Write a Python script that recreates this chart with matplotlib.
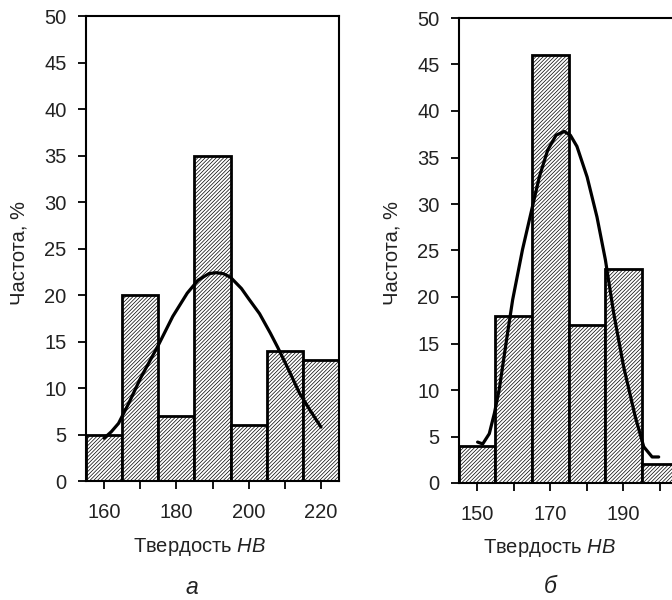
import matplotlib
matplotlib.use("Agg")
import matplotlib.pyplot as plt
from matplotlib.ticker import FixedLocator

plt.rcParams['font.family'] = ['Liberation Sans', 'DejaVu Sans']
plt.rcParams['mathtext.fontset'] = 'custom'
plt.rcParams['mathtext.it'] = 'Liberation Sans:italic'
plt.rcParams['mathtext.rm'] = 'Liberation Sans'
plt.rcParams['hatch.linewidth'] = 0.5

# panel a
bins_a = [160, 170, 180, 190, 200, 210, 220]
freq_a = [5, 20, 7, 35, 6, 14, 13]
curve_a_x = [160, 162, 164, 167, 170, 175, 179, 183, 186, 189, 191, 193, 195,
             198, 200, 203, 206, 208, 211, 214, 217, 220]
curve_a_y = [4.6, 5.3, 6.2, 8.5, 11.0, 14.6, 17.7, 20.2, 21.6, 22.3, 22.4, 22.3, 21.9,
             20.7, 19.6, 18.0, 15.9, 14.4, 12.0, 9.5, 7.6, 5.8]

# panel b
bins_b = [150, 160, 170, 180, 190, 200]
freq_b = [4, 18, 46, 17, 23, 2]
curve_b_x = [150.1, 151.5, 153.3, 154.7, 156.0, 158.3, 159.7, 162.4, 164.7, 167.0, 169.3,
             171.6, 173.8, 175.5, 177.3, 180.1, 182.8, 185.1, 187.4, 190.1, 193.3,
             195.6, 197.9, 199.7]
curve_b_y = [4.4, 4.2, 5.3, 7.5, 10.0, 16.1, 19.7, 25.1, 29.0, 32.9, 35.8,
             37.4, 37.8, 37.4, 36.2, 32.9, 28.6, 24.0, 18.2, 12.5, 7.1,
             3.9, 2.8, 2.8]

TXT = '#222222'

fig = plt.figure(figsize=(6.72, 6.0), dpi=100)
ax1 = fig.add_axes([0.128, 0.1983, 0.3765, 0.775])
ax2 = fig.add_axes([0.683, 0.195, 0.326, 0.775])


def draw(ax, bins, freq, cx, cy, xlim, major, minor):
    ax.bar(bins, freq, width=10, facecolor='white', edgecolor='black',
           hatch='/////////', linewidth=2.0, zorder=2)
    ax.plot(cx, cy, color='black', lw=2.3, solid_capstyle='round',
            solid_joinstyle='round', zorder=3)
    ax.set_xlim(*xlim)
    ax.set_ylim(0, 50)
    ax.set_yticks(range(0, 51, 5))
    ax.xaxis.set_major_locator(FixedLocator(major))
    ax.xaxis.set_minor_locator(FixedLocator(minor))
    ax.tick_params(which='both', direction='out', length=6, width=1.3,
                   colors='black', labelcolor=TXT, labelsize=14.5)
    ax.tick_params(axis='y', pad=8)
    ax.tick_params(axis='x', pad=10)
    for s in ax.spines.values():
        s.set_linewidth(1.5)


draw(ax1, bins_a, freq_a, curve_a_x, curve_a_y, (155, 225),
     [160, 180, 200, 220], [170, 190, 210])
draw(ax2, bins_b, freq_b, curve_b_x, curve_b_y, (145, 205),
     [150, 170, 190], [160, 180, 200])

for xl, yl in [(19, 253), (392, 253)]:
    fig.text(xl / 672, 1 - yl / 600, 'Частота, %', fontsize=14.5, color=TXT,
             rotation=90, ha='center', va='center')

fig.text(199 / 672, 1 - 547 / 600, 'Твердость $HB$', fontsize=14.5, color=TXT,
         ha='center', va='center')
fig.text(549 / 672, 1 - 548 / 600, 'Твердость $HB$', fontsize=14.5, color=TXT,
         ha='center', va='center')
fig.text(192 / 672, 1 - 594 / 600, 'а', fontsize=16.5, style='italic', color=TXT,
         ha='center', va='baseline')
fig.text(550 / 672, 1 - 593 / 600, 'б', fontsize=16.5, style='italic', color=TXT,
         ha='center', va='baseline')

fig.savefig('out.png', dpi=100)
